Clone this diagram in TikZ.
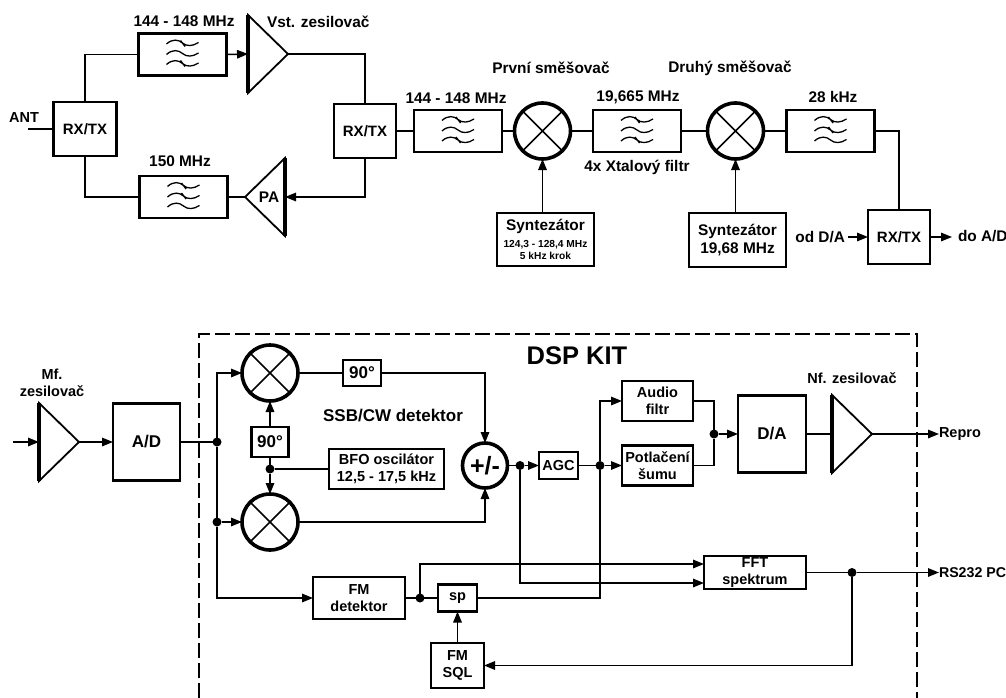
\documentclass[tikz,border=0pt]{standalone}
\usepackage{fontspec}
\setmainfont{Liberation Sans}
\usetikzlibrary{positioning, arrows.meta, shapes.geometric}
\tikzset{
  lab/.style={inner sep=0pt, outer sep=0pt, align=center, font=\fontsize{15.4}{18}\selectfont\bfseries},
  smlab/.style={inner sep=0pt, outer sep=0pt, align=center, font=\fontsize{14.5}{17}\selectfont\bfseries},
  block/.style={rectangle, draw=black, line width=2.6pt, inner sep=0pt, outer sep=0pt,
                align=center, font=\fontsize{15}{17.3}\selectfont\bfseries},
  fine/.style={block, font=\fontsize{14.5}{17.3}\selectfont\bfseries},
  filterbox/.style={block, minimum width=88pt, minimum height=42pt,
                path picture={
                  \draw[line width=1.3pt, shift={(path picture bounding box.center)}]
                    (-16,-10.5) .. controls (-10,-16) and (-4,-15) .. (0,-11.5) .. controls (4,-8) and (10,-8) .. (16,-12)
                    (-16,0) .. controls (-10,-5.5) and (-4,-4.5) .. (0,-1) .. controls (4,2.5) and (10,2.5) .. (16,-1.5)
                    (-16,10) .. controls (-10,4.5) and (-4,5.5) .. (0,9) .. controls (4,12.5) and (10,12.5) .. (16,8.5)
                    (-2,-14) -- (2.5,-8)
                    (-2,#1-3) -- (2.5,#1+3);
                }},
  mixer/.style={circle, draw=black, line width=3.6pt, minimum size=56pt, inner sep=0pt, outer sep=0pt,
                path picture={
                  \draw[line width=1.6pt] (path picture bounding box.north west) -- (path picture bounding box.south east)
                    (path picture bounding box.north east) -- (path picture bounding box.south west);
                }},
  amp/.style={isosceles triangle, draw=black, line width=1.8pt, inner sep=0pt, outer sep=0pt,
              isosceles triangle stretches, minimum width=78pt, minimum height=40pt,
              font=\fontsize{15}{17}\selectfont\bfseries},
  base/.style={line width=3.4pt},
  junction/.style={circle, fill=black, minimum size=9pt, inner sep=0pt, outer sep=0pt},
  wire/.style={line width=1.5pt},
  myarr/.style={wire, -{Stealth[length=11pt, width=8.5pt, inset=0pt]}},
}
\begin{document}
\begin{tikzpicture}[x=1pt, y=-1pt]
  \useasboundingbox (0,0) rectangle (1006,698);

  % upper chain
  \node[block, minimum width=63pt, minimum height=54pt] (rxa) at (85,129) {RX/TX};
  \node[filterbox=9, above right=26.5pt and 22pt of rxa] (filta) {};
  \node[filterbox=-1, below right=20pt and 23pt of rxa] (filtb) {};
  \node[amp, anchor=lower side] (ampa) at (248,54) {};
  \node[amp, shape border rotate=180, anchor=lower side] (ampb) at (285,197) {};
  \node[lab] at (269,197) (ampbtext) {PA};
  \node[block, minimum width=62pt, minimum height=54pt] (rxb) at (365,131) {RX/TX};
  \node[filterbox=9, right=18pt of rxb] (filtc) {};
  \node[mixer, right=12.5pt of filtc] (mixa) {};
  \node[filterbox=9, right=22.5pt of mixa] (filtd) {};
  \node[mixer, right=26.5pt of filtd] (mixb) {};
  \node[filterbox=-1, right=23pt of mixb] (filte) {};
  \node[block, minimum width=97pt, minimum height=53pt] (syna) at (545.5,239.5)
     {\fontsize{15.4}{16}\selectfont Syntezátor\\[0pt]\fontsize{10.2}{12}\selectfont 124,3 - 128,4 MHz\\[-5pt]\fontsize{10.2}{12}\selectfont 5 kHz krok};
  \node[block, minimum width=97pt, minimum height=54pt, font=\fontsize{15.4}{18}\selectfont\bfseries] (synb) at (737.5,240) {Syntezátor\\19,68 MHz};
  \node[block, minimum width=62pt, minimum height=54pt] (rxc) at (899,237) {RX/TX};

  \node[smlab] (ant) at (24,118) {ANT};
  \coordinate (antin) at (28,129);
  \node[lab] (lfilta) at (184,21) {144 - 148 MHz};
  \node[lab, anchor=west] (lampa) at (267,22) {Vst. zesilovač};
  \node[lab] (lfiltb) at (180,161) {150 MHz};
  \node[lab] (lfiltc) at (456,98) {144 - 148 MHz};
  \node[lab] (lmixa) at (551,68) {První směšovač};
  \node[lab] (lmixb) at (730,68) {Druhý směšovač};
  \node[lab] (lfiltd) at (638,97) {19,665 MHz};
  \node[lab] (lfilte) at (833,97) {28 kHz};
  \node[lab] (lxtal) at (637,167) {4x Xtalový filtr};
  \node[lab, anchor=east] (oddac) at (845,237) {od D/A};
  \node[lab, anchor=west] (doadc) at (958,236.5) {do A/D};
  \coordinate (doadctip) at (952,237);

  \draw[wire] (antin) -- (rxa.west);
  \draw[wire] (rxa.north) |- (filta.west);
  \draw[wire] (rxa.south) |- (filtb.west);
  \draw[myarr] (filta.east) -- (ampa.lower side);
  \draw[wire] (ampa.apex) -| (rxb.north);
  \draw[myarr] (rxb.south) |- (ampb.lower side);
  \draw[wire] (ampb.apex) -- (filtb.east);
  \draw[wire] (rxb.east) -- (filtc.west);
  \draw[wire] (filtc.east) -- (mixa.west);
  \draw[wire] (mixa.east) -- (filtd.west);
  \draw[wire] (filtd.east) -- (mixb.west);
  \draw[wire] (mixb.east) -- (filte.west);
  \draw[wire] (filte.east) -| (rxc.north);
  \draw[myarr] (mixa.south |- syna.north) -- (mixa.south);
  \draw[myarr] (mixb.south |- synb.north) -- (mixb.south);
  \draw[myarr] (oddac.east) ++(3,0) -- (rxc.west);
  \draw[myarr] (rxc.east) -- (doadctip);

  % DSP KIT frame
  \draw[line width=1.4pt, dash pattern=on 15pt off 5pt] (199,698) -- (199,334) -- (917,334) -- (917,698);
  \node[font=\fontsize{25.5}{28}\selectfont\bfseries, inner sep=0pt] (dsp) at (577,356) {DSP KIT};

  % lower chain
  \node[amp, anchor=lower side] (ampc) at (39,442) {};
  \node[block, minimum width=67pt, minimum height=77pt, font=\fontsize{17}{20}\selectfont\bfseries] (adc) at (146.5,442) {A/D};
  \node[junction] (ja) at (217,442) {};
  \node[junction, below=71pt of ja] (jb) {};
  \node[mixer] (mixc) at (270,373) {};
  \node[mixer] (mixd) at (270,522) {};
  \node[block, minimum width=38pt, minimum height=26pt, font=\fontsize{17}{20}\selectfont\bfseries] (phb) at (362,373) {90°};
  \node[block, minimum width=37pt, minimum height=30pt, font=\fontsize{17}{20}\selectfont\bfseries] (pha) at (270,442) {90°};
  \node[junction] (jc) at (270,469) {};
  \node[fine, minimum width=115pt, minimum height=40pt] (bfo) at (386.5,469) {BFO oscilátor\\12,5 - 17,5 kHz};
  \node[circle, draw=black, line width=3.6pt, minimum size=45pt, inner sep=0pt, outer sep=0pt,
        font=\fontsize{25}{28}\selectfont\bfseries] (plus) at (485,465.5) {+/-};
  \node[junction] (jd) at (520,465.5) {};
  \node[fine, minimum width=39pt, minimum height=27pt] (agc) at (558.5,465.5) {AGC};
  \node[junction] (je) at (600,465.5) {};
  \node[fine, minimum width=71pt, minimum height=40pt] (potl) at (657.5,465.5) {Potlačení\\šumu};
  \node[fine, minimum width=71pt, minimum height=40pt] (audio) at (657.5,401) {Audio\\filtr};
  \node[junction] (jf) at (714,434) {};
  \node[block, minimum width=68pt, minimum height=77pt, font=\fontsize{17}{20}\selectfont\bfseries] (dac) at (772,434) {D/A};
  \node[amp, anchor=lower side] (ampd) at (832,434) {};
  \node[fine, minimum width=92pt, minimum height=42pt] (fmdet) at (359,598) {FM\\detektor};
  \node[junction] (jh) at (420,598) {};
  \node[fine, minimum width=39pt, minimum height=27pt] (sp) at (457.5,598) {sp};
  \node[fine, minimum width=53pt, minimum height=45pt] (sql) at (457.5,665.5) {FM\\SQL};
  \node[fine, minimum width=102pt, minimum height=33pt] (fft) at (755,572.5) {FFT\\spektrum};
  \node[junction] (jg) at (852,572.5) {};
  \coordinate (ifin) at (13,442);

  \node[smlab] (lampc) at (52,382.5) {Mf.\\zesilovač};
  \node[lab, font=\fontsize{17}{20}\selectfont\bfseries] (lssb) at (393,416) {SSB/CW detektor};
  \node[smlab] (lampd) at (852,378) {Nf. zesilovač};
  \node[smlab, anchor=west] (repro) at (939,434) {Repro};
  \node[smlab, anchor=west, font=\fontsize{14.2}{17}\selectfont\bfseries] (rs) at (939,572.5) {RS232 PC};

  \draw[myarr] (ifin) -- (ampc.lower side);
  \draw[myarr] (ampc.apex) -- (adc.west);
  \draw[wire] (adc.east) -- (ja);
  \draw[myarr] (ja) |- (mixc.west);
  \draw[wire] (ja) -- (jb);
  \draw[myarr] (jb) -- (mixd.west);
  \draw[myarr] (jb) |- (fmdet.west);
  \draw[wire] (mixc.east) -- (phb.west);
  \draw[myarr] (phb.east) -| (plus.north);
  \draw[myarr] (mixd.east) -| (plus.south);
  \draw[myarr] (pha.north) -- (mixc.south);
  \draw[wire] (pha.south) -- (jc);
  \draw[myarr] (jc) -- (mixd.north);
  \draw[wire] (jc) -- (bfo.west);
  \draw[wire] (plus.east) -- (jd);
  \draw[myarr] (jd) -- (agc.west);
  \draw[wire] (agc.east) -- (je);
  \draw[myarr] (je) -- (potl.west);
  \draw[myarr] (je) |- (audio.west);
  \draw[wire] (audio.east) -| (jf);
  \draw[wire] (potl.east) -| (jf);
  \draw[myarr] (jf) -- (dac.west);
  \draw[wire] (dac.east) -- (ampd.lower side);
  \draw[myarr] (ampd.apex) -- (repro.west);
  \draw[wire] (fmdet.east) -- (sp.west);
  \draw[myarr] (sql.north) -- (sp.south);
  \draw[wire] (sp.east) -| (je);
  \draw[myarr] (jh) |- ([yshift=8.5pt]fft.west);
  \draw[myarr] (jd) |- ([yshift=-10.5pt]fft.west);
  \draw[wire] (fft.east) -- (jg);
  \draw[myarr] (jg) -- (rs.west);
  \draw[myarr] (jg) |- (sql.east);

  % thick bases of the amplifiers
  \draw[base] (ampa.left corner) -- (ampa.right corner);
  \draw[base] (ampb.left corner) -- (ampb.right corner);
  \draw[base] (ampc.left corner) -- (ampc.right corner);
  \draw[base] (ampd.left corner) -- (ampd.right corner);
\end{tikzpicture}
\end{document}
